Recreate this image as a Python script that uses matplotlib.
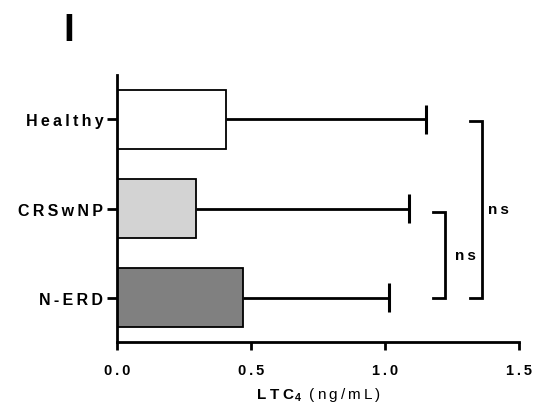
import matplotlib
matplotlib.use("Agg")
import matplotlib.pyplot as plt
import numpy as np

plt.rcParams['font.family'] = ['Liberation Sans', 'DejaVu Sans']
plt.rcParams['mathtext.fontset'] = 'custom'
plt.rcParams['mathtext.rm'] = 'Liberation Sans'
plt.rcParams['mathtext.bf'] = 'Liberation Sans:bold'

# LTC4 levels per group (mean and SD)
groups = ['Healthy', 'CRSwNP', 'N-ERD']
means = [0.407, 0.294, 0.467]
sds = [0.744, 0.795, 0.545]
colors = ['#ffffff', '#d3d3d3', '#808080']
xticks = [0.0, 0.5, 1.0, 1.5]

TS = '\u2009'

def spaced(s):
    return TS.join(s)

fig = plt.figure(figsize=(5.36, 4.10), dpi=100)
ax = fig.add_axes([0.219, 0.163, 0.75, 0.652])

ypos = np.arange(len(groups))[::-1]
ax.barh(ypos, means, height=0.66, color=colors, edgecolor='black', linewidth=1.3, zorder=2)

# one-sided SD whiskers with end caps
tops = np.array(means) + np.array(sds)
ax.hlines(ypos, means, tops, color='black', lw=2, zorder=1)
ax.vlines(tops, ypos - 0.165, ypos + 0.165, color='black', lw=2.2, zorder=1)

ax.set_xlim(0, 1.5)
ax.set_ylim(-0.5, 2.5)
ax.set_xticks(xticks)
ax.set_xticklabels([spaced(f'{t:.1f}') for t in xticks], fontsize=10.5, fontweight='bold')
ax.set_yticks(ypos)
ax.set_yticklabels([spaced(g) for g in groups], fontsize=11.5, fontweight='bold')
ax.tick_params(axis='x', length=6, width=2, pad=9)
ax.tick_params(axis='y', length=7, width=2, pad=3)
for s in ['top', 'right']:
    ax.spines[s].set_visible(False)
for s in ['left', 'bottom']:
    ax.spines[s].set_linewidth(2)

ax.set_xlabel(r'$\mathbf{L\;T\;C}_{\mathbf{4}}$  ' + spaced('(ng/mL)'), fontsize=11, labelpad=6)

# significance brackets
def bracket(x0, x1, y0, y1, label, tx):
    ax.plot([x0, x1, x1, x0], [y0, y0, y1, y1], color='black', lw=2, clip_on=False,
            solid_joinstyle='miter')
    ax.text(tx, (y0 + y1) / 2, spaced(label), fontsize=11, fontweight='bold',
            ha='center', va='center')

bracket(1.177, 1.222, 0.0, 0.965, 'ns', 1.297)
bracket(1.315, 1.360, 0.0, 1.98, 'ns', 1.42)

fig.text(0.128, 0.9, 'I', fontsize=28, fontweight='bold', ha='center', va='baseline')

fig.savefig('out.png', dpi=100)
